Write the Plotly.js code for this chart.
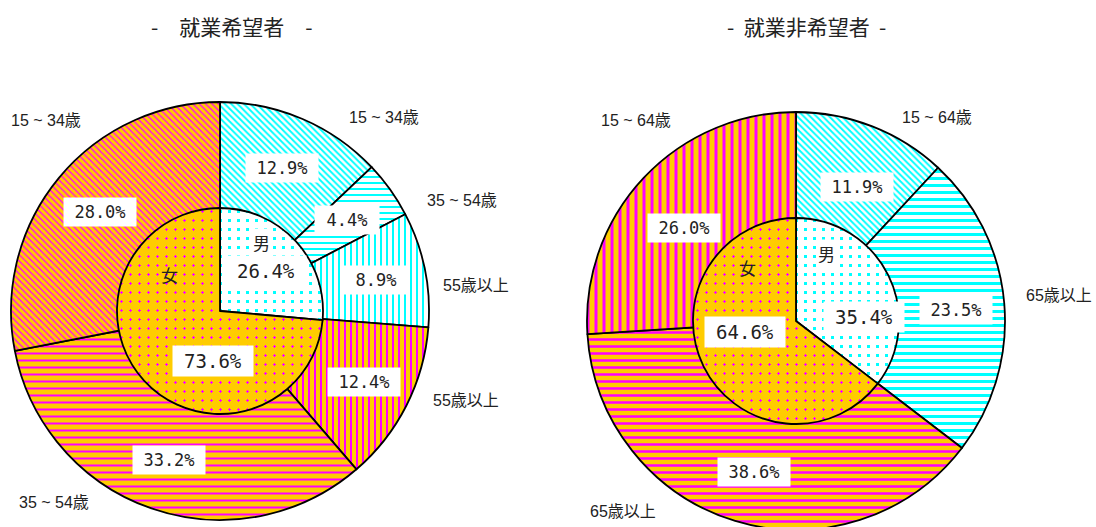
<!DOCTYPE html>
<html><head><meta charset="utf-8">
<script src="https://cdn.plot.ly/plotly-3.0.1.min.js"></script>
<style>html,body{margin:0;padding:0;overflow:hidden;background:#fff}#chart{width:1096px;height:540px}
#chart pattern path[d*="H"], #chart pattern path[d*="V"], #chart pattern circle{shape-rendering:crispEdges}</style>
</head><body><div id="chart"></div>
<script>
// ---------- data ----------
const titleA = '-\u3000就業希望者\u3000-';
const titleB = '-  就業非希望者  -';
const innerLabelsA = ['男', '女'];
const innerValuesA = [26.4, 73.6];
const outerLabelsA = ['15 ~ 34歳', '35 ~ 54歳', '55歳以上', '55歳以上', '35 ~ 54歳', '15 ~ 34歳'];
const outerValuesA = [12.9, 4.4, 8.9, 12.4, 33.2, 28.0];
const innerLabelsB = ['男', '女'];
const innerValuesB = [35.4, 64.6];
const outerLabelsB = ['15 ~ 64歳', '65歳以上', '65歳以上', '15 ~ 64歳'];
const outerValuesB = [11.9, 23.5, 38.6, 26.0];

// ---------- styles / geometry ----------
const W = 1096, H = 540;
const CY = '#00FFFF', MG = '#FF00FF', OR = '#FFCC00', WH = '#FFFFFF';
const gA = {cx: 220, cy: 311, R: 209, r: 103};
const gB = {cx: 796, cy: 321, R: 209, r: 103};
const CJK = 'Liberation Sans, Noto Sans CJK JP, sans-serif';
const MONO = 'DejaVu Sans Mono, monospace';

const outerPatA = {
  shape: ['\\', '-', '|', '|', '-', '\\'],
  fgcolor: [CY, CY, CY, MG, MG, MG],
  bgcolor: [WH, WH, WH, OR, OR, OR],
  size: [4.5, 6, 6, 6, 7, 4.5],
  solidity: [0.42, 2 / 6, 2 / 6, 2 / 6, 2 / 7, 0.3]
};
const outerPatB = {
  shape: ['\\', '-', '-', '|'],
  fgcolor: [CY, CY, MG, MG],
  bgcolor: [WH, WH, OR, OR],
  size: [4.5, 7, 7, 8],
  solidity: [0.42, 3 / 7, 2.5 / 7, 3 / 8]
};
const innerPat = {
  shape: ['.', '.'],
  fgcolor: [CY, MG],
  bgcolor: [WH, OR],
  size: [9, 9],
  solidity: [0.11, 0.05]
};
// label nudges (px) for ring percent labels
const nudgeA = [[0,0],[0,0],[3,0],[5,0],[0,2],[0,0]];
const nudgeB = [[4,11],[5,2],[3,2],[2,14]];
// category label centres (px)
const catPosA = [[384,117],[462,200],[476,285],[466,400],[54,502],[46,120]];
const catPosB = [[937,117],[1059,295],[623,511],[636,120]];
// inner label positions (px): [kanji, percent]
const innerPosA = [[[261,242],[266,271]], [[169,274],[213,361]]];
const innerPosB = [[[826,254],[864,317]], [[747,267],[745,332]]];

function dom(g, rad) {
  return {x: [(g.cx - rad) / W, (g.cx + rad) / W], y: [(H - g.cy - rad) / H, (H - g.cy + rad) / H]};
}
function pie(g, rad, labels, values, pat) {
  return {
    type: 'pie', labels: labels.map((l, i) => l + '#' + i), values: values,
    sort: false, direction: 'clockwise', rotation: 0,
    textinfo: 'none', hoverinfo: 'none', showlegend: false,
    domain: dom(g, rad),
    marker: {colors: pat.bgcolor, line: {color: '#000', width: 1.8}, pattern: pat}
  };
}
const px = (x) => x / W, py = (y) => 1 - y / H;

function ringAnn(g, values, nudge) {
  const tot = values.reduce((a, b) => a + b, 0);
  const rm = (g.R + g.r) / 2;
  let cum = 0;
  return values.map((v, i) => {
    const th = 2 * Math.PI * (cum + v / 2) / tot; cum += v;
    const x = g.cx + rm * Math.sin(th) + nudge[i][0];
    const y = g.cy - rm * Math.cos(th) + nudge[i][1];
    const txt = v.toFixed(1) + '%';
    return {x: px(x), y: py(y), xref: 'paper', yref: 'paper', showarrow: false,
      text: txt, bgcolor: '#fff', width: txt.length > 4 ? 68 : 60, height: 24, borderpad: 2,
      xanchor: 'center', yanchor: 'middle',
      font: {family: MONO, size: 17, color: '#222'}};
  });
}
function catAnn(labels, pos) {
  return labels.map((l, i) => ({x: px(pos[i][0]), y: py(pos[i][1]), xref: 'paper', yref: 'paper',
    showarrow: false, text: l, xanchor: 'center', yanchor: 'middle',
    font: {family: CJK, size: 16, color: '#222'}}));
}
function innerAnn(labels, values, pos) {
  const out = [];
  labels.forEach((l, i) => {
    out.push({x: px(pos[i][0][0]), y: py(pos[i][0][1]), xref: 'paper', yref: 'paper', showarrow: false,
      text: l, xanchor: 'center', yanchor: 'middle', bgcolor: i === 0 ? '#fff' : 'rgba(0,0,0,0)',
      font: {family: 'Noto Sans CJK JP', size: 17, color: '#222'}});
    out.push({x: px(pos[i][1][0]), y: py(pos[i][1][1]), xref: 'paper', yref: 'paper', showarrow: false,
      text: values[i].toFixed(1) + '%', xanchor: 'center', yanchor: 'middle', bgcolor: '#fff',
      width: 76, height: 26, borderpad: 2,
      font: {family: MONO, size: 19, color: '#222'}});
  });
  return out;
}

const data = [
  pie(gA, gA.R, outerLabelsA, outerValuesA, outerPatA),
  pie(gA, gA.r, innerLabelsA, innerValuesA, innerPat),
  pie(gB, gB.R, outerLabelsB, outerValuesB, outerPatB),
  pie(gB, gB.r, innerLabelsB, innerValuesB, innerPat)
];
const annotations = [].concat(
  ringAnn(gA, outerValuesA, nudgeA), ringAnn(gB, outerValuesB, nudgeB),
  catAnn(outerLabelsA, catPosA), catAnn(outerLabelsB, catPosB),
  innerAnn(innerLabelsA, innerValuesA, innerPosA), innerAnn(innerLabelsB, innerValuesB, innerPosB),
  [{x: px(232), y: py(26), xref: 'paper', yref: 'paper', showarrow: false, text: titleA,
    xanchor: 'center', yanchor: 'middle', font: {family: 'Noto Sans CJK JP', size: 21, color: '#222'}},
   {x: px(806), y: py(26), xref: 'paper', yref: 'paper', showarrow: false, text: titleB,
    xanchor: 'center', yanchor: 'middle', font: {family: 'Noto Sans CJK JP', size: 21, color: '#222'}}]
);
const layout = {
  width: W, height: H, margin: {l: 0, r: 0, t: 0, b: 0},
  paper_bgcolor: '#fff', plot_bgcolor: '#fff', showlegend: false,
  annotations: annotations
};
Plotly.newPlot('chart', data, layout, {staticPlot: true, displayModeBar: false});
</script></body></html>
